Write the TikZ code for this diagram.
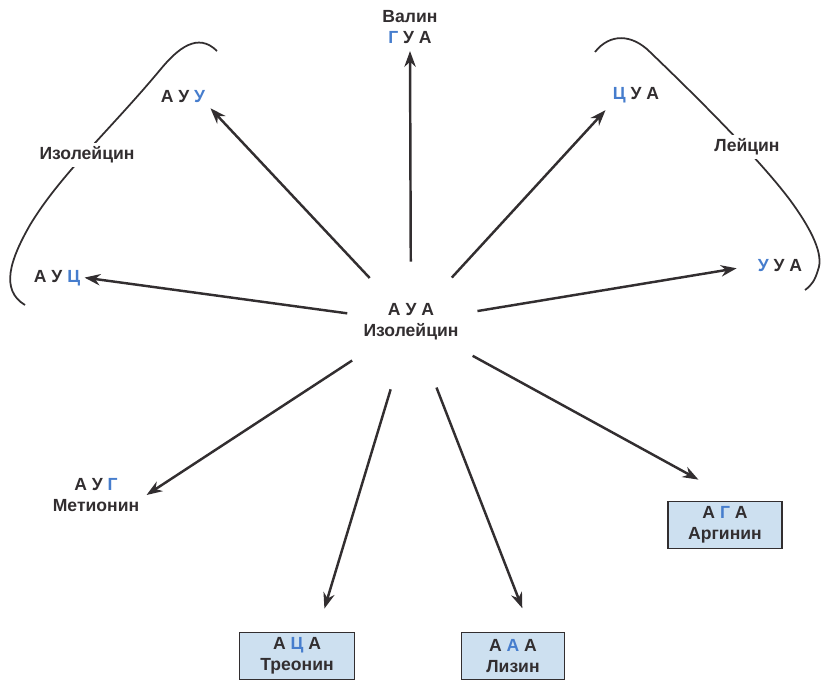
\documentclass[tikz,border=0pt]{standalone}
\usepackage{fontspec}
\setmainfont{Liberation Sans}
\usetikzlibrary{arrows.meta,calc}
\definecolor{txtgray}{RGB}{50,46,48}
\definecolor{codblue}{RGB}{70,125,205}
\definecolor{boxblue}{RGB}{205,224,240}
\newcommand{\bl}[1]{\textcolor{codblue}{#1}}

\begin{document}
\begin{tikzpicture}[x=0.02cm, y=-0.02cm,
codon/.style={text=txtgray, font=\bfseries, align=center, inner sep=4pt},
acid/.style={codon, draw=txtgray, line width=1.1pt, fill=boxblue, minimum height=0.94cm, inner sep=2pt},
arr/.style={draw=txtgray, line width=1.4pt, -{Stealth[length=9pt,width=6.5pt]}},
group/.style={draw=txtgray, line width=1pt},
glabel/.style={text=txtgray, font=\bfseries, fill=white, inner sep=2pt},
]
\useasboundingbox (0,0) rectangle (822,683);

%Center codon
\node[codon, circle, minimum size=2.4cm] (aua) at (411,322) {А У А\\Изолейцин};

%Mutant codons
\node[codon] (val) at (410,27) {Валин\\\bl{Г} У А};
\node[codon] (auu) at (183,97) {А У \bl{У}};
\node[codon] (auc) at (57,278) {А У \bl{Ц}};
\node[codon] (cua) at (636,95) {\bl{Ц} У А};
\node[codon] (uua) at (780,266) {\bl{У} У А};
\node[codon] (aug) at (96,495) {А У \bl{Г}\\Метионин};

%Changed amino acids
\node[acid, minimum width=2.3cm] (thr) at (297,656) {А \bl{Ц} А\\Треонин};
\node[acid, minimum width=2.06cm] (lys) at (513,656) {А \bl{А} А\\Лизин};
\node[acid, minimum width=2.28cm] (arg) at (725,525) {А \bl{Г} А\\Аргинин};

%Groups
\draw[group] (217,51) .. controls (198,32) and (178,48) .. (160,70)
  .. controls (110,130) and (60,175) .. (30,225)
  .. controls (10,260) and (0,290) .. (25,305);
\node[glabel] (ile) at (87,155) {Изолейцин};
\draw[group] (595,52) .. controls (610,33) and (632,34) .. (650,52)
  .. controls (700,100) and (760,160) .. (790,200)
  .. controls (812,230) and (824,255) .. (818,270)
  .. controls (815,280) and (812,285) .. (805,290);
\node[glabel] (leu) at (747,147) {Лейцин};

%Arrows
\draw[arr] (aua) -- (val.south);
\draw[arr, shorten >=-0.06cm] (aua) -- (auu.south east);
\draw[arr, shorten <=0.08cm, shorten >=-0.06cm] (aua) -- (auc.east);
\draw[arr] (aua) -- (cua.south west);
\draw[arr, shorten <=0.14cm, shorten >=0.28cm] (aua) -- (uua.west);
\draw[arr, shorten <=0.2cm] (aua) -- (aug.east);
\draw[arr, shorten <=0.2cm, shorten >=0.48cm] (aua) -- ($(thr.north)!.35!(thr.north east)$);
\draw[arr, shorten <=0.2cm, shorten >=0.5cm] (aua) -- ($(lys.north)!.35!(lys.north east)$);
\draw[arr, shorten <=0.2cm, shorten >=0.87cm] (aua) -- ($(arg.north)!.2!(arg.north east)$);
\end{tikzpicture}
\end{document}
